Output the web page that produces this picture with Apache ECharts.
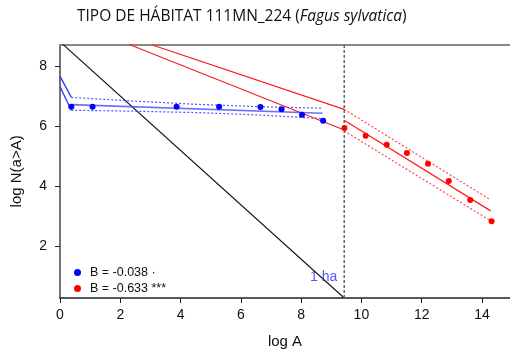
<!DOCTYPE html>
<html><head><meta charset="utf-8">
<script src="https://cdn.jsdelivr.net/npm/echarts@6/dist/echarts.min.js"></script>
<style>html,body{margin:0;padding:0;background:#fff}#c{width:510px;height:354px}</style>
</head><body><div id="c"></div>
<script>
// Data (log A, log N(a>A))
const bluePoints = [[0.375,6.66],[1.08,6.66],[3.87,6.66],[5.28,6.66],[6.65,6.65],[7.35,6.57],[8.03,6.39],[8.73,6.19]];
const redPoints = [[9.44,5.95],[10.14,5.69],[10.84,5.39],[11.51,5.11],[12.21,4.75],[12.9,4.18],[13.61,3.54],[14.32,2.83]];
const blueFit = [[0.375,6.73],[8.71,6.44]];
const blueUpperExt = [[0,7.68],[0.375,6.97]];
const blueLowerExt = [[0,7.33],[0.375,6.54]];
const blueUpperCI = [[0.375,6.97],[2.4,6.85],[4.5,6.74],[6.63,6.66],[8.71,6.61]];
const blueLowerCI = [[0.375,6.54],[2.42,6.51],[4.64,6.46],[6.63,6.38],[8.71,6.26]];
const redUpperExt = [[3.04,8.73],[9.43,6.57]];
const redLowerExt = [[2.32,8.73],[9.43,5.88]];
const redFit = [[9.43,6.21],[14.29,3.18]];
const redUpperCI = [[9.43,6.57],[14.25,3.57]];
const redLowerCI = [[9.43,5.85],[14.32,2.83]];
const refLine = [[0,8.83],[9.43,0.27]];
const breakLine = [[9.43,0.27],[9.43,8.73]];
const haLabel = [[9.2,0.98]];
const xTicks = [0,2,4,6,8,10,12,14];
const yTicks = [2,4,6,8];
const legendNames = ['B = -0.038 ·','B = -0.633 ***'];

const X_MIN=0, X_MAX=14.93, Y_MIN=0.27, Y_MAX=8.73;
const chart = echarts.init(document.getElementById('c'), null, {renderer:'canvas'});
function line(data, color, width, type, z){
  return {type:'line', data, showSymbol:false, symbol:'none', clip:true, silent:true, z:z||2,
    lineStyle:{color, width, type:type||'solid'}, animation:false};
}
chart.setOption({
  animation:false,
  title:{left:72, top:4, text:'{a|TIPO DE HÁBITAT 111MN_224 (}{b|Fagus sylvatica}{a|)}',
    textStyle:{fontWeight:'normal',rich:{a:{fontFamily:'Open Sans',fontSize:15.5,fontWeight:'normal',color:'#111'},b:{fontFamily:'Open Sans',fontSize:15.5,fontWeight:'normal',fontStyle:'italic',color:'#111'}}}},
  grid:{left:60,right:0,top:44.7,bottom:53.3,containLabel:false},
  legend:{data:legendNames, orient:'vertical', left:69, top:261, itemWidth:7, itemHeight:7, itemGap:3,
    icon:'circle', textStyle:{fontFamily:'Liberation Sans, Arial',fontSize:12.5,color:'#111',padding:[0,0,0,4]}, selectedMode:false},
  xAxis:[{type:'value',min:X_MIN,max:X_MAX,position:'bottom',name:'log A',nameLocation:'middle',nameGap:36,
    nameTextStyle:{fontFamily:'Liberation Sans, Arial',fontSize:15,color:'#111'},
    axisLine:{show:true,onZero:false,lineStyle:{color:'#222',width:1.5}},
    axisTick:{show:true,customValues:xTicks,length:5,lineStyle:{color:'#222'}},
    axisLabel:{customValues:xTicks,margin:10,fontFamily:'Liberation Sans, Arial',fontSize:14,color:'#111'},
    splitLine:{show:false}},
   {type:'value',min:X_MIN,max:X_MAX,position:'top',axisLine:{show:true,onZero:false,lineStyle:{color:'#888',width:2}},
    axisTick:{show:false},axisLabel:{show:false},splitLine:{show:false}}],
  yAxis:{type:'value',min:Y_MIN,max:Y_MAX,name:'log N(a>A)',nameLocation:'middle',nameGap:36,
    nameTextStyle:{fontFamily:'Liberation Sans, Arial',fontSize:15,color:'#111'},
    axisLine:{show:true,onZero:false,lineStyle:{color:'#444',width:1.5}},
    axisTick:{show:true,customValues:yTicks,length:5,lineStyle:{color:'#222'}},
    axisLabel:{customValues:yTicks,margin:13,fontFamily:'Liberation Sans, Arial',fontSize:14,color:'#111'},
    splitLine:{show:false}},
  series:[
    line(refLine,'#111',1.1),
    line(breakLine,'#666',1.5,[3,2]),
    line(blueUpperExt,'#2a2aff',1.2),
    line(blueLowerExt,'#2a2aff',1.2),
    line(blueFit,'rgba(60,60,255,0.75)',1.6),
    line(blueUpperCI,'rgba(40,40,255,0.8)',1.2,[2,2]),
    line(blueLowerCI,'rgba(40,40,255,0.8)',1.2,[2,2]),
    line(redUpperExt,'#ff1a1a',1.2),
    line(redLowerExt,'#ff1a1a',1.2),
    line(redFit,'#ff1a1a',1.2),
    line(redUpperCI,'rgba(255,30,30,0.8)',1.2,[2,2]),
    line(redLowerCI,'rgba(255,30,30,0.8)',1.2,[2,2]),
    {type:'scatter',name:legendNames[0],data:bluePoints,symbol:'circle',symbolSize:6,itemStyle:{color:'#0000ff',opacity:1},z:5},
    {type:'scatter',name:legendNames[1],data:redPoints,symbol:'circle',symbolSize:6,itemStyle:{color:'#ff0000',opacity:1},z:5},
    {type:'scatter',data:haLabel,symbolSize:0,silent:true,
      label:{show:true,formatter:'1 ha',position:'left',distance:0,fontFamily:'Liberation Sans, Arial',fontSize:14,color:'#2a2aff'}}
  ]
});
</script></body></html>
